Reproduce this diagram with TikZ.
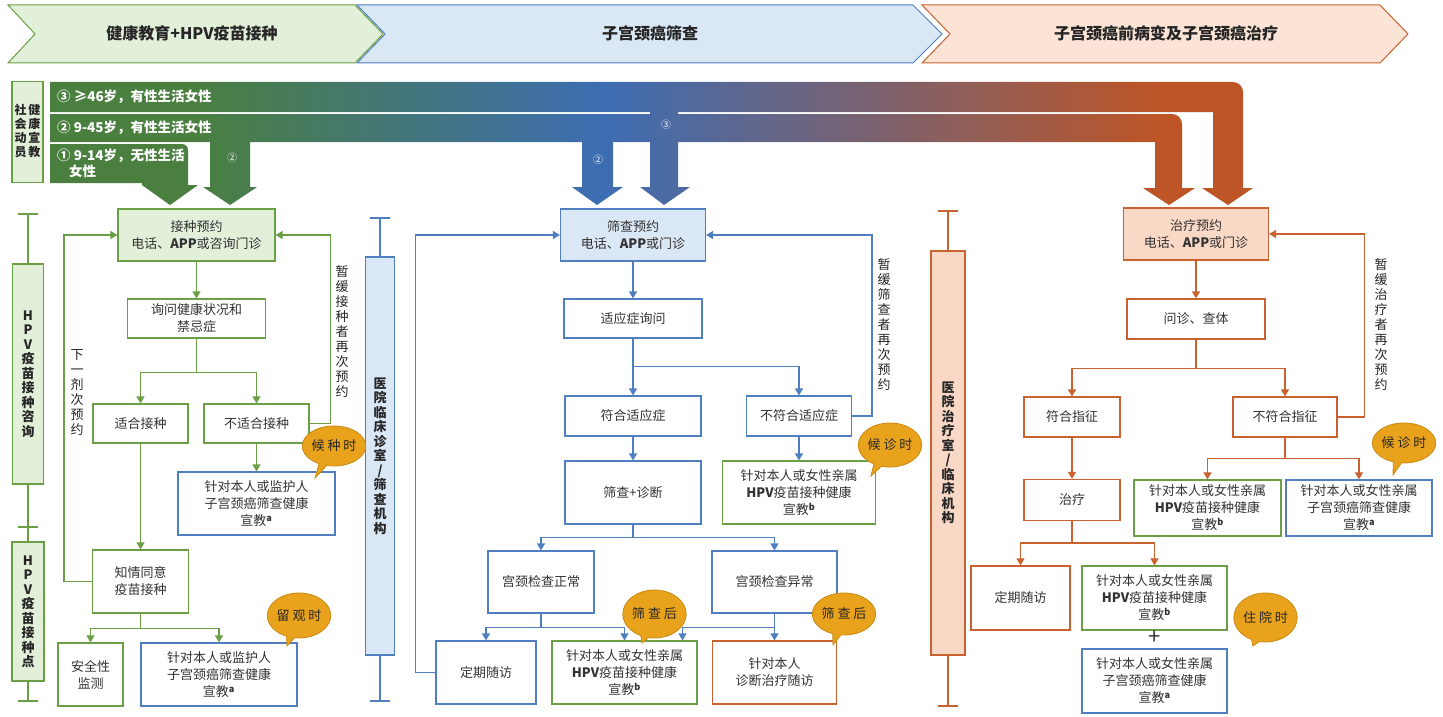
\documentclass[tikz,border=0pt]{standalone}
\usepackage{fontspec}
\setmainfont{Noto Sans CJK SC}
\usetikzlibrary{arrows.meta,shapes.callouts}

\definecolor{grnfill}{HTML}{E2EFD9}
\definecolor{grnline}{HTML}{6A9F45}
\definecolor{blufill}{HTML}{DAE7F5}
\definecolor{bluline}{HTML}{4F7FC0}
\definecolor{orgfill}{HTML}{F9D8C6}
\definecolor{orgline}{HTML}{C9622F}
\definecolor{orghead}{HTML}{FBE4D6}
\definecolor{callfill}{HTML}{E9A21C}
\definecolor{callline}{HTML}{C98A12}
\definecolor{bandG}{HTML}{4A7F40}
\definecolor{bandB}{HTML}{3D6DB2}
\definecolor{bandO}{HTML}{BD5527}

\pgfdeclarehorizontalshading{bandgrad}{100bp}{color(0bp)=(bandG); color(25bp)=(bandG); color(31bp)=(bandG); color(48bp)=(bandB); color(71bp)=(bandO); color(100bp)=(bandO)}

% one piece of the coloured bands, all pieces share the same gradient
\newcommand{\bandpart}[1]{\begin{scope}\clip #1; \shade[shading=bandgrad] (50,80) rectangle (1256,206);\end{scope}}

\begin{document}
\begin{tikzpicture}[x=1pt,y=-1pt,
  box/.style={draw,line width=1.2pt,align=center,inner sep=1pt,text=black!80,font=\fontsize{13}{17}\selectfont},
  sz/.style 2 args={minimum width=#1pt,minimum height=#2pt},
  gbox/.style={box,draw=grnline},
  bbox/.style={box,draw=bluline},
  obox/.style={box,draw=orgline},
  gline/.style={draw=grnline,line width=1.3pt},
  bline/.style={draw=bluline,line width=1.3pt},
  oline/.style={draw=orgline,line width=1.3pt},
  glink/.style={gline,-{Triangle[length=7pt,width=8pt]}},
  blink/.style={bline,-{Triangle[length=7pt,width=8pt]}},
  olink/.style={oline,-{Triangle[length=7pt,width=8pt]}},
  colbox/.style={draw,line width=1.2pt,align=center,inner sep=0pt,text=black!85,font=\fontsize{13}{14.5}\selectfont\bfseries},
  vlabel/.style={align=center,inner sep=0pt,text=black!85,font=\fontsize{13}{15}\selectfont},
  bubble/.style={ellipse callout,draw=callline,fill=callfill,line width=0.8pt,inner sep=0pt,text=black!85,font=\fontsize{13}{14}\selectfont},
  bandtext/.style={anchor=west,text=white,align=left,inner sep=0pt,font=\fontsize{13.5}{16}\selectfont\bfseries},
  headtext/.style={text=black!85,font=\fontsize{16}{18}\selectfont\bfseries},
  numtext/.style={text=white,inner sep=0pt,font=\fontsize{10}{10}\selectfont}]

\path[fill=white,use as bounding box] (0,0) rectangle (1443,717);

% stage banner
\draw[draw=grnline,fill=grnfill,line width=1pt] (8,5) -- (355,5) -- (383,34) -- (355,63) -- (8,63) -- (35,34) -- cycle;
\draw[draw=bluline,fill=blufill,line width=1pt] (357,5) -- (913,5) -- (942,34) -- (913,63) -- (357,63) -- (385,34) -- cycle;
\draw[draw=orgline,fill=orghead,line width=1pt] (922,5) -- (1380,5) -- (1408,34) -- (1380,63) -- (922,63) -- (950,34) -- cycle;
\node[headtext] (hVacc) at (192,33) {健康教育+HPV疫苗接种};
\node[headtext] (hScreen) at (650,33) {子宫颈癌筛查};
\node[headtext] (hTreat) at (1166,33) {子宫颈癌前病变及子宫颈癌治疗};

% target groups
\bandpart{(50,82) [rounded corners=10pt] -- (1243,82) [sharp corners] -- (1243,188) -- (1253,188) -- (1228,205) -- (1202,188) -- (1213,188) -- (1213,112) -- (50,112) -- cycle}
\bandpart{(50,114) [rounded corners=10pt] -- (1182,114) [sharp corners] -- (1182,188) -- (1195,188) -- (1169,205) -- (1143,188) -- (1155,188) -- (1155,142) -- (50,142) -- cycle}
\bandpart{(50,144) [rounded corners=6pt] -- (188,144) [sharp corners] -- (188,185) -- (198,185) -- (170,205) -- (142,185) -- (142,183) -- (50,183) -- cycle}
\bandpart{(210,140) -- (250,140) -- (250,187) -- (257,187) -- (230,205) -- (203,187) -- (210,187) -- cycle}
\bandpart{(582,140) -- (613,140) -- (613,187) -- (623,187) -- (597,205) -- (572,187) -- (582,187) -- cycle}
\bandpart{(650,110) -- (678,110) -- (678,187) -- (690,187) -- (664,205) -- (640,187) -- (650,187) -- cycle}
\node[bandtext] (tBand3) at (57,97) {③ ≥46岁，有性生活女性};
\node[bandtext] (tBand2) at (57,128) {② 9-45岁，有性生活女性};
\node[bandtext] (tBand1) at (57,163) {① 9-14岁，无性生活\\\hspace{12pt}女性};
\node[numtext] (aG2) at (232,158) {②};
\node[numtext] (aB2) at (598,160) {②};
\node[numtext] (aB3) at (666,125) {③};

\node[colbox,draw=grnline,fill=grnfill,sz={31}{101},font=\fontsize{12}{12.5}\selectfont\bfseries] (cMobil) at (27.5,132)
  {\begin{tabular}{@{}c@{\hspace{2pt}}c@{}}社&健\\会&康\\动&宣\\员&教\end{tabular}};

% side columns
\node[colbox,draw=grnline,fill=grnfill,sz={31}{220}] (cVacc) at (28,374) {H\\P\\V\\疫\\苗\\接\\种\\咨\\询};
\node[colbox,draw=grnline,fill=grnfill,sz={32}{139}] (cPoint) at (28,611.5) {H\\P\\V\\疫\\苗\\接\\种\\点};
\node[colbox,draw=bluline,fill=blufill,sz={29}{398}] (cClinic) at (380,456) {医\\院\\临\\床\\诊\\室\\/\\筛\\查\\机\\构};
\node[colbox,draw=orgline,fill=orgfill,sz={34}{404}] (cHosp) at (948,453) {医\\院\\治\\疗\\室\\/\\临\\床\\机\\构};

\coordinate (gTickA) at (28,214);
\coordinate (gTickB) at (28,527);
\coordinate (gTickC) at (28,701);
\coordinate (bTickA) at (380,218);
\coordinate (bTickB) at (380,701);
\coordinate (oTickA) at (948,211);
\coordinate (oTickB) at (948,706);
\foreach \t in {gTickA,gTickB,gTickC}
  \draw[gline] ([xshift=-10pt]\t) -- ([xshift=10pt]\t);
\foreach \t in {bTickA,bTickB}
  \draw[bline] ([xshift=-10pt]\t) -- ([xshift=10pt]\t);
\foreach \t in {oTickA,oTickB}
  \draw[oline] ([xshift=-10pt]\t) -- ([xshift=10pt]\t);
\draw[gline] (gTickA) -- (cVacc.north);
\draw[gline] (cVacc.south) -- (cPoint.north);
\draw[gline] (cPoint.south) -- (gTickC);
\draw[bline] (bTickA) -- (cClinic.north);
\draw[bline] (cClinic.south) -- (bTickB);
\draw[oline] (oTickA) -- (cHosp.north);
\draw[oline] (cHosp.south) -- (oTickB);

% vaccination
\node[gbox,fill=grnfill,sz={157}{52}] (gBook) at (196.5,235) {接种预约\\电话、\textbf{APP}或咨询门诊};
\node[gbox,sz={138}{39}] (gAsk) at (196.5,318.5) {询问健康状况和\\禁忌症};
\node[gbox,sz={95}{39}] (gFit) at (140.5,423.5) {适合接种};
\node[gbox,sz={105}{39}] (gUnfit) at (256.5,423.5) {不适合接种};
\node[bbox,sz={157}{63}] (gEduA) at (256.5,503.5) {针对本人或监护人\\子宫颈癌筛查健康\\宣教\textsuperscript{\textbf{a}}};
\node[gbox,sz={96}{63}] (gConsent) at (140.5,581.5) {知情同意\\疫苗接种};
\node[gbox,sz={65}{63}] (gSafe) at (90.5,674.5) {安全性\\监测};
\node[bbox,sz={156}{63}] (gEduB) at (219,674.5) {针对本人或监护人\\子宫颈癌筛查健康\\宣教\textsuperscript{\textbf{a}}};
\node[vlabel] (gNext) at (77,393) {下\\一\\剂\\次\\预\\约};
\node[vlabel] (gDefer) at (342,332) {暂\\缓\\接\\种\\者\\再\\次\\预\\约};

\draw[glink] (gBook) -- (gAsk);
\draw[glink] (gAsk.south) -- ++(0,34) -| (gFit.north);
\draw[glink] (gAsk.south) -- ++(0,34) -| (gUnfit.north);
\draw[glink] (gUnfit) -- (gEduA);
\draw[glink] (gFit) -- (gConsent);
\draw[glink] (gConsent.south) -- ++(0,15) -| (gSafe.north);
\draw[glink] (gConsent.south) -- ++(0,15) -| (gEduB.north);
\draw[glink] (gConsent.west) -- ++(-28,0) |- (gBook.west);
\draw[glink] (gUnfit.east) -- ++(21,0) |- (gBook.east);

% screening
\node[bbox,fill=blufill,sz={145}{52}] (bBook) at (633,235) {筛查预约\\电话、\textbf{APP}或门诊};
\node[bbox,sz={138}{39}] (bAsk) at (633,318.5) {适应症询问};
\node[bbox,sz={136}{40}] (bFit) at (633,416) {符合适应症};
\node[bbox,sz={105}{40}] (bUnfit) at (799,416) {不符合适应症};
\node[bbox,sz={136}{63}] (bScreen) at (633,492.5) {筛查+诊断};
\node[gbox,sz={153}{63}] (bEduB) at (799,492.5) {针对本人或女性亲属\\\textbf{HPV}疫苗接种健康\\宣教\textsuperscript{\textbf{b}}};
\node[bbox,sz={106}{62}] (bNormal) at (541,582) {宫颈检查正常};
\node[bbox,sz={125}{62}] (bAbnorm) at (774.5,582) {宫颈检查异常};
\node[bbox,sz={100}{63}] (bFollow) at (486,672.5) {定期随访};
\node[gbox,sz={145}{63}] (bEduHPV) at (624.5,672.5) {针对本人或女性亲属\\\textbf{HPV}疫苗接种健康\\宣教\textsuperscript{\textbf{b}}};
\node[obox,sz={124}{63}] (bTreat) at (774.5,672.5) {针对本人\\诊断治疗随访};
\node[vlabel] (bDefer) at (884,325) {暂\\缓\\筛\\查\\者\\再\\次\\预\\约};

\draw[blink] (bBook) -- (bAsk);
\draw[blink] (bAsk.south) -- ++(0,28) -| (bFit.north);
\draw[blink] (bAsk.south) -- ++(0,28) -| (bUnfit.north);
\draw[blink] (bFit) -- (bScreen);
\draw[blink] (bUnfit) -- (bEduB);
\draw[blink] (bScreen.south) -- ++(0,13) -| (bNormal.north);
\draw[blink] (bScreen.south) -- ++(0,13) -| (bAbnorm.north);
\draw[blink] (bNormal.south) -- ++(0,14) -| (bFollow.north);
\draw[blink] (bNormal.south) -- ++(0,14) -| (bEduHPV.north);
\draw[blink] (bAbnorm.south) -- ++(0,14) -| ([xshift=58pt]bEduHPV.north);
\draw[blink] (bAbnorm) -- (bTreat);
\draw[blink] (bFollow.west) -- ++(-20,0) |- (bBook.west);
\draw[blink] (bUnfit.east) -- ++(20,0) |- (bBook.east);

% treatment
\node[obox,fill=orgfill,sz={145}{52}] (oBook) at (1196,234) {治疗预约\\电话、\textbf{APP}或门诊};
\node[obox,sz={138}{40}] (oAsk) at (1196,319) {问诊、查体};
\node[obox,sz={96}{40}] (oFit) at (1072,417) {符合指征};
\node[obox,sz={104}{40}] (oUnfit) at (1285,417) {不符合指征};
\node[obox,sz={96}{41}] (oTreat) at (1072,500) {治疗};
\node[gbox,sz={147}{56}] (oEduHPV) at (1207.5,508) {针对本人或女性亲属\\\textbf{HPV}疫苗接种健康\\宣教\textsuperscript{\textbf{b}}};
\node[bbox,sz={146}{56}] (oEduScr) at (1359,508) {针对本人或女性亲属\\子宫颈癌筛查健康\\宣教\textsuperscript{\textbf{a}}};
\node[obox,sz={99}{64}] (oFollow) at (1020.5,598) {定期随访};
\node[gbox,sz={145}{64}] (oEduHPV2) at (1154.5,598) {针对本人或女性亲属\\\textbf{HPV}疫苗接种健康\\宣教\textsuperscript{\textbf{b}}};
\node[text=black!80,inner sep=0pt,font=\fontsize{22}{22}\selectfont] (oPlus) at (1154.5,638) {+};
\node[bbox,sz={145}{64}] (oEduScr2) at (1154.5,681) {针对本人或女性亲属\\子宫颈癌筛查健康\\宣教\textsuperscript{\textbf{a}}};
\node[vlabel] (oDefer) at (1381,325) {暂\\缓\\治\\疗\\者\\再\\次\\预\\约};

\draw[olink] (oBook) -- (oAsk);
\draw[olink] (oAsk.south) -- ++(0,29) -| (oFit.north);
\draw[olink] (oAsk.south) -- ++(0,29) -| (oUnfit.north);
\draw[olink] (oFit) -- (oTreat);
\draw[olink] (oUnfit.south) -- ++(0,21) -| (oEduHPV.north);
\draw[olink] (oUnfit.south) -- ++(0,21) -| (oEduScr.north);
\draw[olink] (oTreat.south) -- ++(0,22) -| (oFollow.north);
\draw[olink] (oTreat.south) -- ++(0,22) -| (oEduHPV2.north);
\draw[olink] (oUnfit.east) -- ++(27,0) |- (oBook.east);

% when the education happens
\node[bubble,sz={55}{40},callout absolute pointer={(315,478)}] (gWait) at (334,446) {候 种 时};
\node[bubble,sz={58}{45},callout absolute pointer={(287,646)}] (gStay) at (299,615.5) {留 观 时};
\node[bubble,sz={58}{44},callout absolute pointer={(871,476)}] (bWait) at (890,445) {候 诊 时};
\node[bubble,sz={61}{48},callout absolute pointer={(642,643)}] (bAfterA) at (654.5,614) {筛 查 后};
\node[bubble,sz={58}{42},callout absolute pointer={(833,645)}] (bAfterB) at (844,614) {筛 查 后};
\node[bubble,sz={58}{40},callout absolute pointer={(1393,475)}] (oWait) at (1404,443) {候 诊 时};
\node[bubble,sz={59}{49},callout absolute pointer={(1253,646)}] (oStay) at (1265.5,617.5) {住 院 时};
\end{tikzpicture}
\end{document}
